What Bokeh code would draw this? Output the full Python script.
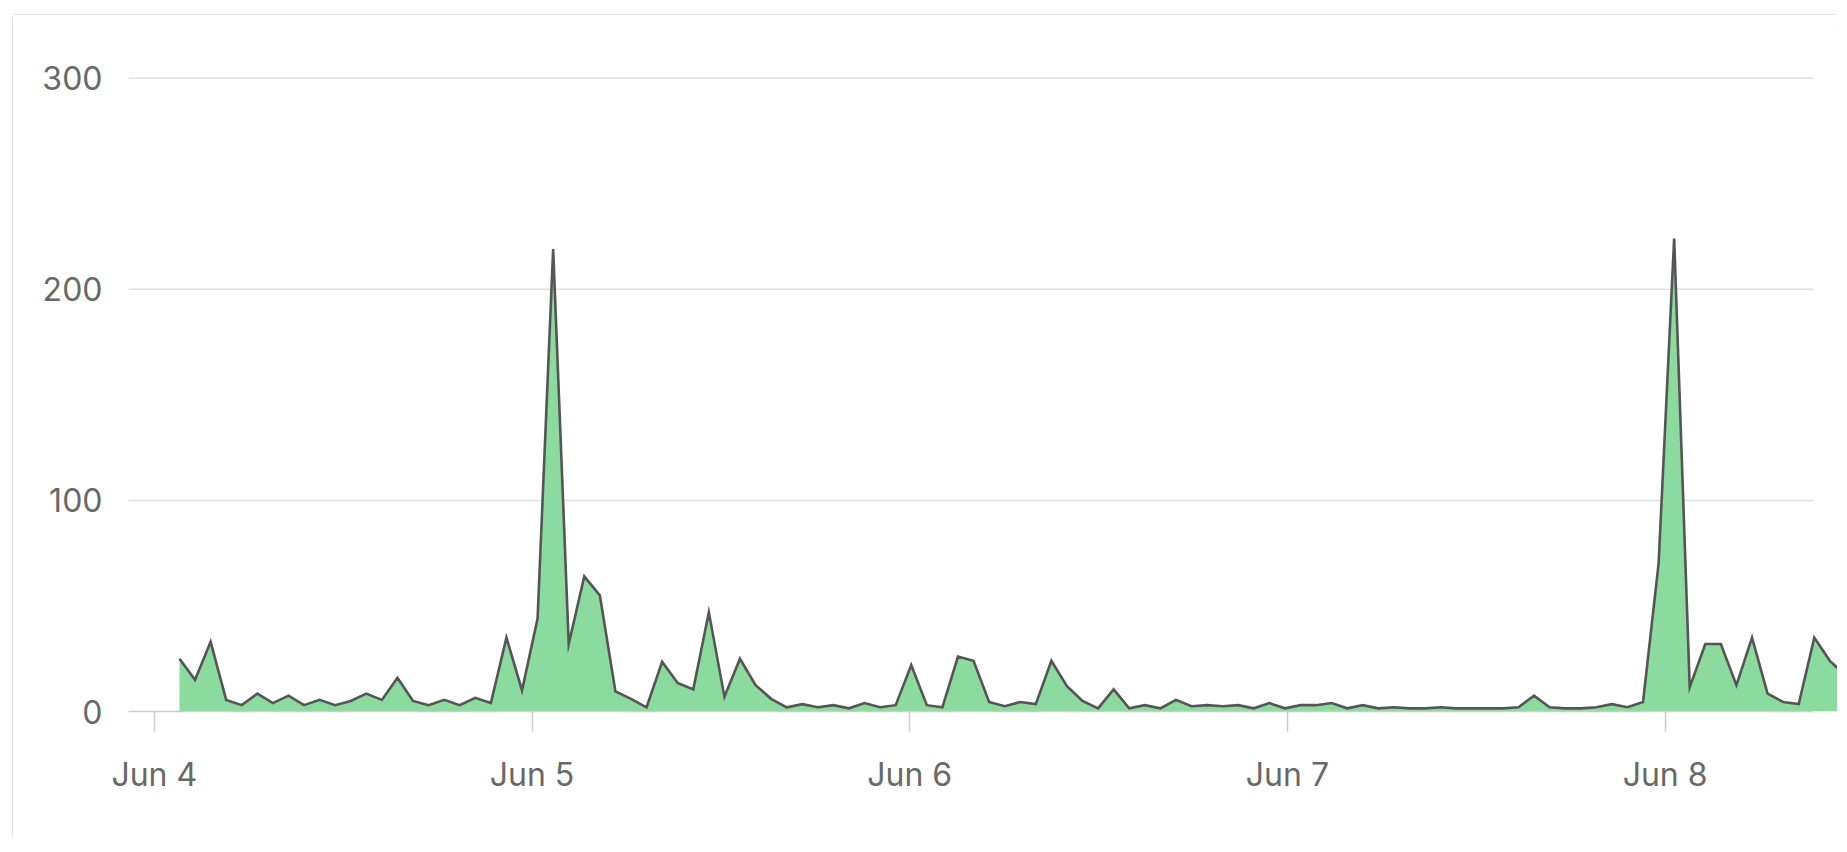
from datetime import datetime, timedelta

from bokeh.plotting import figure
from bokeh.models import Range1d, FixedTicker
from bokeh.embed import file_html
from bokeh.resources import INLINE

# ---------------- data ----------------
series_start = datetime(2024, 6, 4, 1, 36)
step_minutes = 59.36
values = [
    25, 15, 33, 5.5, 3, 8.5, 4, 7.5, 3, 5.5,
    3, 5, 8.5, 5.5, 16, 5, 3, 5.5, 3, 6.5,
    4, 35, 10, 44, 219, 32, 64, 55, 9.5, 6,
    2, 23.5, 13.5, 10.5, 47, 7, 25, 12.5, 6, 2,
    3.5, 2, 3, 1.5, 4, 2, 3, 22, 3, 2,
    26, 24, 4.5, 2.5, 4.5, 3.5, 24, 12, 5, 1.5,
    10.5, 1.5, 3, 1.5, 5.5, 2.5, 3, 2.5, 3, 1.5,
    4, 1.5, 3, 3, 4, 1.5, 3, 1.5, 2, 1.5,
    1.5, 2, 1.5, 1.5, 1.5, 1.5, 2, 7.5, 2, 1.5,
    1.5, 2, 3.5, 2, 4.5, 70, 224, 11.5, 32, 32,
    12.5, 35, 8.5, 4.5, 3.5, 35, 24, 17,
]
times = [series_start + timedelta(minutes=step_minutes * i) for i in range(len(values))]

tick_days = [datetime(2024, 6, d) for d in (4, 5, 6, 7, 8)]
tick_labels = ["Jun 4", "Jun 5", "Jun 6", "Jun 7", "Jun 8"]
y_ticks = [0, 100, 200, 300]
grid_values = [100, 200, 300]

# ---------------- layout ----------------
day0 = datetime(2024, 6, 4)
x_start = day0 - timedelta(days=0.06831)
x_end = day0 + timedelta(days=4.45645)
grid_end = day0 + timedelta(days=4.3929)

p = figure(
    width=1825, height=825,
    x_axis_type="datetime",
    x_range=Range1d(x_start, x_end),
    y_range=Range1d(0, 322.1),
    output_backend="svg",
    toolbar_location=None,
    min_border_left=116, min_border_right=0,
    min_border_top=17, min_border_bottom=128,
)
p.margin = (14, 0, 0, 12)
p.styles = {"outline": "1px solid #dedede", "outline-offset": "-1px", "border-radius": "3px"}
p.outline_line_color = None
p.background_fill_color = "white"
p.border_fill_color = "white"
p.xgrid.visible = False
p.ygrid.visible = False

# grid lines
p.segment(x0=[x_start] * len(grid_values), x1=[grid_end] * len(grid_values),
          y0=grid_values, y1=grid_values, line_color="#e0e0e6", line_width=1.5)

# area + line
p.varea(x=times, y1=0, y2=values, fill_color="#8cdb9e", fill_alpha=1.0)
p.line(x=times, y=values, line_color="#555555", line_width=2.6, line_join="miter")

# x axis
ms = [(d - datetime(1970, 1, 1)).total_seconds() * 1000.0 for d in tick_days]
xa = p.xaxis[0]
xa.ticker = FixedTicker(ticks=ms)
xa.major_label_overrides = {float(m): lab for m, lab in zip(ms, tick_labels)}
xa.bounds = (x_start, grid_end)
xa.axis_line_color = "#cccccf"
xa.axis_line_width = 1.5
xa.major_tick_line_color = "#cccccf"
xa.major_tick_line_width = 1.5
xa.major_tick_out = 20
xa.major_tick_in = 0
xa.minor_tick_line_color = None
xa.major_label_standoff = 23
xa.major_label_text_font = "Inter"
xa.major_label_text_font_size = "32px"
xa.major_label_text_color = "#686868"

# y axis
ya = p.yaxis[0]
ya.ticker = FixedTicker(ticks=y_ticks)
ya.axis_line_color = None
ya.major_tick_line_color = None
ya.minor_tick_line_color = None
ya.major_tick_out = 0
ya.major_tick_in = 0
ya.major_label_standoff = 26
ya.major_label_text_font = "Inter"
ya.major_label_text_font_size = "32px"
ya.major_label_text_color = "#686868"

open("out.html", "w").write(file_html(p, INLINE))
